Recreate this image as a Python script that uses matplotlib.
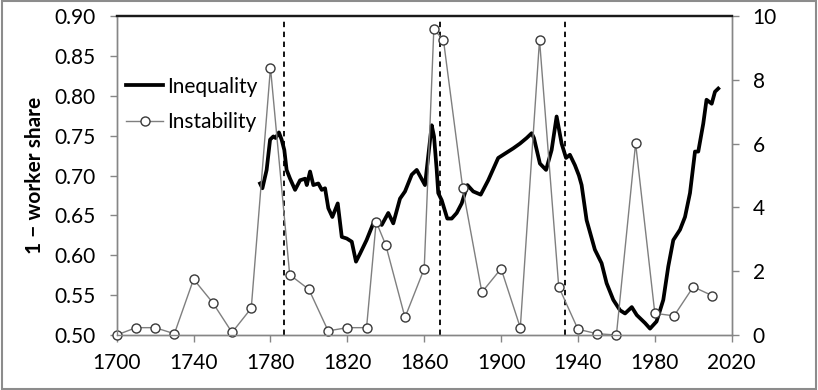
import matplotlib.pyplot as plt
from matplotlib.patches import Rectangle

plt.rcParams['font.family'] = ['Lato', 'DejaVu Sans']

# inequality (1 - worker share), left axis
ineq_year = [1774.6, 1775.8, 1778, 1779.8, 1781.5, 1782.7, 1784.4, 1785.8, 1787.2, 1788.4,
             1790.2, 1792.8, 1795.4, 1798, 1798.9, 1800.6, 1802.3, 1804.9, 1806.7, 1808.4,
             1810.1, 1812.2, 1815, 1817.1, 1819.7, 1822.3, 1824.5, 1826.6, 1830, 1833.5,
             1836.1, 1837.9, 1841.3, 1843.9, 1847.4, 1850, 1853.5, 1856.1, 1860.4, 1863.9,
             1865.1, 1866.5, 1867.3, 1869.1, 1872, 1874.3, 1876.9, 1879.5, 1882.5, 1885.5,
             1889.4, 1893.3, 1898.5, 1901.1, 1906.3, 1909.8, 1913.3, 1915.9, 1917.1, 1920.2,
             1923.4, 1926.3, 1928.9, 1931.5, 1933.8, 1935.8, 1938.4, 1940.5, 1941.9, 1944.5,
             1948.8, 1952.3, 1954.9, 1958.4, 1961.9, 1964.5, 1968, 1970.6, 1974.9, 1977.5,
             1980.9, 1984.4, 1987, 1989.6, 1993.1, 1995.7, 1998.3, 2000.9, 2002.6, 2005.2,
             2006.9, 2009.6, 2011.3, 2013]
ineq_val = [0.690, 0.684, 0.707, 0.745, 0.749, 0.747, 0.754, 0.745, 0.732, 0.707,
            0.696, 0.682, 0.694, 0.696, 0.688, 0.705, 0.688, 0.690, 0.682, 0.684,
            0.659, 0.648, 0.665, 0.623, 0.621, 0.617, 0.592, 0.602, 0.619, 0.640,
            0.642, 0.638, 0.653, 0.640, 0.671, 0.680, 0.701, 0.707, 0.688, 0.763,
            0.749, 0.707, 0.678, 0.669, 0.646, 0.646, 0.653, 0.665, 0.688, 0.680,
            0.676, 0.694, 0.722, 0.726, 0.734, 0.740, 0.747, 0.753, 0.747, 0.715,
            0.707, 0.732, 0.774, 0.740, 0.722, 0.726, 0.713, 0.700, 0.688, 0.644,
            0.607, 0.590, 0.565, 0.544, 0.531, 0.527, 0.535, 0.525, 0.515, 0.508,
            0.517, 0.544, 0.586, 0.619, 0.632, 0.648, 0.678, 0.730, 0.730, 0.765,
            0.795, 0.790, 0.805, 0.809]

# instability, right axis
inst_year = [1700, 1710, 1720, 1730, 1740, 1750, 1760, 1770, 1780, 1790, 1800, 1810,
             1820, 1830, 1835, 1840, 1850, 1860, 1865, 1870, 1880, 1890, 1900, 1910,
             1920, 1930, 1940, 1950, 1960, 1970, 1980, 1990, 2000, 2010]
inst_val = [0, 0.23, 0.23, 0.04, 1.75, 1.01, 0.08, 0.84, 8.38, 1.89, 1.43, 0.13,
            0.23, 0.23, 3.55, 2.82, 0.55, 2.08, 9.58, 9.25, 4.62, 1.34, 2.08, 0.23,
            9.25, 1.51, 0.18, 0.04, 0, 6.01, 0.68, 0.6, 1.51, 1.23]

# dashed marker years
dash_years = [1787, 1868, 1933]

x_ticks = [1700, 1740, 1780, 1820, 1860, 1900, 1940, 1980, 2020]
left_ticks = [0.50, 0.55, 0.60, 0.65, 0.70, 0.75, 0.80, 0.85, 0.90]
right_ticks = [0, 2, 4, 6, 8, 10]

fig = plt.figure(figsize=(8.18, 3.9), dpi=100)
ax = fig.add_axes([0.1427, 0.141, 0.7518, 0.818])
ax2 = ax.twinx()

grey = '#868686'

l1, = ax.plot(ineq_year, ineq_val, color='black', lw=2.7, label='Inequality')
for yr in dash_years:
    ax.axvline(yr, ymin=0, ymax=0.985, color='black', ls=(0, (3, 2.5)), lw=1.3)

l2, = ax2.plot(inst_year, inst_val, color='#7f7f7f', lw=1.0, marker='o', ms=6.5,
               mfc='white', mec='#3a3a3a', mew=1.0, clip_on=False, label='Instability')

ax.set_xlim(1700, 2020)
ax.set_ylim(0.50, 0.90)
ax2.set_ylim(0, 10)
ax.set_xticks(x_ticks)
ax.set_yticks(left_ticks)
ax.set_yticklabels(['%.2f' % v for v in left_ticks])
ax2.set_yticks(right_ticks)

for a in (ax, ax2):
    for s in ('left', 'right', 'bottom'):
        a.spines[s].set_color(grey)
        a.spines[s].set_linewidth(1.0)
    a.spines['top'].set_color('#1a1a1a')
    a.spines['top'].set_linewidth(1.6)
ax.tick_params(axis='both', direction='out', length=5, width=1, color=grey,
               labelsize=15, pad=10)
ax.tick_params(axis='x', pad=8)
ax2.tick_params(axis='y', direction='out', length=5, width=1, color=grey,
                labelsize=15, pad=10)

fig.text(35 / 818, 1 - 175.5 / 390, '1 \u2212 worker share', rotation=90,
         fontsize=15, fontweight='bold', ha='center', va='center')

ax2.legend(handles=[l1, l2], loc='center left', bbox_to_anchor=(0.015, 0.7226),
           frameon=False, fontsize=15, handlelength=1.8, handletextpad=0.2,
           borderpad=0, borderaxespad=0, labelspacing=0.75)

fig.patches.append(Rectangle((0.002, 0.003), 0.996, 0.994, transform=fig.transFigure,
                             fill=False, edgecolor='#8c8c8c', lw=1.5))

fig.savefig('out.png', dpi=100)
